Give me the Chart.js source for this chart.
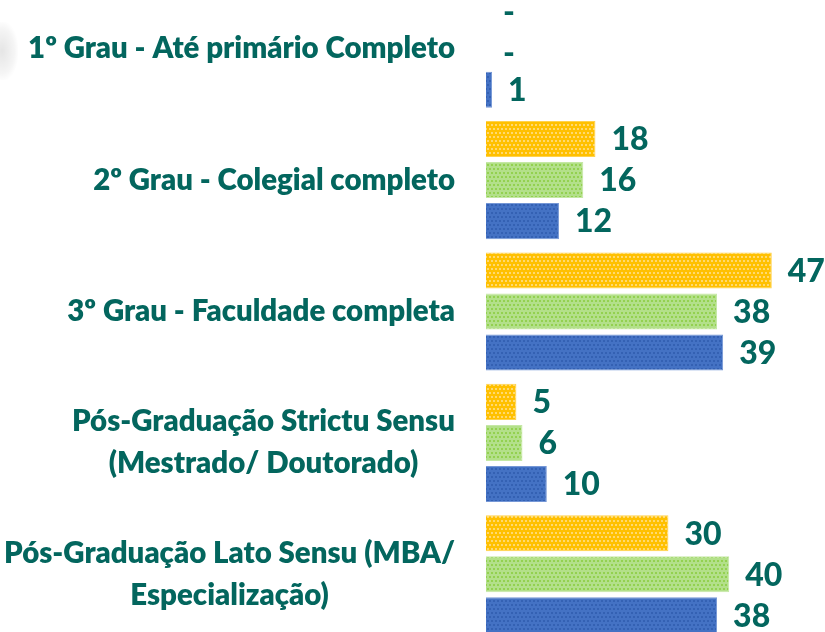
<!DOCTYPE html>
<html>
<head>
<meta charset="utf-8">
<script src="https://cdn.jsdelivr.net/npm/chart.js@4"></script>
<style>
  html, body { margin: 0; padding: 0; background: #ffffff; overflow: hidden; }
  body { width: 825px; height: 632px; position: relative; }
  #wrap { position: absolute; left: 0; top: -17px; width: 825px; height: 657px; }
  #blob { position: absolute; left: -14px; top: 22px; width: 32px; height: 58px;
          background: radial-gradient(ellipse at center, rgba(0,0,0,0.10) 0%, rgba(0,0,0,0.04) 55%, rgba(0,0,0,0) 75%); }
</style>
</head>
<body>
<div id="blob"></div>
<div id="wrap"><canvas id="c"></canvas></div>
<script>
const categories = [
  ["1º Grau - Até primário Completo"],
  ["2º Grau - Colegial completo"],
  ["3º Grau - Faculdade completa"],
  ["Pós-Graduação Strictu Sensu", "(Mestrado/ Doutorado)"],
  ["Pós-Graduação Lato Sensu (MBA/", "Especialização)"]
];
const seriesNames = ["Série 1", "Série 2", "Série 3"];
const seriesOrange = [null, 18, 47, 5, 30];
const seriesGreen  = [null, 16, 38, 6, 40];
const seriesBlue   = [1, 12, 39, 10, 38];

const TEAL = '#03665E';
const FONT = 'Lato, "Open Sans", "Noto Sans", sans-serif';

function makePattern(base, dot) {
  const t = document.createElement('canvas');
  t.width = 8; t.height = 8;
  const g = t.getContext('2d');
  g.fillStyle = base; g.fillRect(0, 0, 8, 8);
  g.fillStyle = dot;
  g.fillRect(1, 1, 2, 2); g.fillRect(5, 1, 2, 2);
  g.fillRect(3, 5, 2, 2); g.fillRect(7, 5, 1, 2); g.fillRect(0, 5, 1, 2);
  return document.getElementById('c').getContext('2d').createPattern(t, 'repeat');
}

const pOrange = makePattern('#FFC000', '#FFD970');
const pGreen  = makePattern('#B3E08A', '#93D150');
const pBlue   = makePattern('#4472C4', '#3461B3');

const valueLabels = {
  id: 'valueLabels',
  afterDatasetsDraw(chart) {
    const ctx = chart.ctx;
    const xs = chart.scales.x;
    ctx.save();
    ctx.font = '900 32px ' + FONT;
    ctx.fillStyle = TEAL;
    ctx.textAlign = 'left';
    ctx.textBaseline = 'middle';
    chart.data.datasets.forEach((ds, di) => {
      const meta = chart.getDatasetMeta(di);
      meta.data.forEach((el, i) => {
        const v = ds.data[i];
        const y = el.y;
        if (v === null || v === undefined) {
          ctx.fillText('-', xs.getPixelForValue(0) + 17, y + 5);
        } else {
          ctx.fillText(String(v), xs.getPixelForValue(v) + 16, y + 1);
        }
      });
    });
    ctx.restore();
  }
};

const catLabels = {
  id: 'catLabels',
  afterDraw(chart) {
    const ctx = chart.ctx;
    const ys = chart.scales.y;
    ctx.save();
    let size = 26;
    ctx.font = '800 ' + size + 'px ' + FONT;
    const w = ctx.measureText(categories[0][0]).width;
    size = size * 427 / w;
    ctx.font = '800 ' + size.toFixed(2) + 'px ' + FONT;
    ctx.fillStyle = TEAL;
    ctx.textAlign = 'center';
    ctx.textBaseline = 'middle';
    const right = 455;
    const lh = 42;
    categories.forEach((lines, i) => {
      const yc = ys.getPixelForValue(i);
      const maxW = Math.max(...lines.map(l => ctx.measureText(l).width));
      const cx = right - maxW / 2;
      lines.forEach((l, k) => {
        const y = yc + (k - (lines.length - 1) / 2) * lh;
        ctx.fillText(l, cx, y);
      });
    });
    ctx.restore();
  }
};

new Chart(document.getElementById('c'), {
  type: 'bar',
  data: {
    labels: categories,
    datasets: [
      { label: seriesNames[0], data: seriesOrange, backgroundColor: pOrange, borderColor: '#FFD24D', borderWidth: 1 },
      { label: seriesNames[1], data: seriesGreen,  backgroundColor: pGreen,  borderColor: '#C5E8A5', borderWidth: 1 },
      { label: seriesNames[2], data: seriesBlue,   backgroundColor: pBlue,   borderColor: '#7597D6', borderWidth: 1 }
    ]
  },
  options: {
    indexAxis: 'y',
    responsive: true,
    maintainAspectRatio: false,
    animation: false,
    layout: { padding: 0 },
    categoryPercentage: 0.937,
    barPercentage: 0.878,
    plugins: { legend: { display: false }, tooltip: { enabled: false } },
    scales: {
      x: { display: false, min: 0, max: 55.75 },
      y: {
        display: true,
        grid: { display: false },
        border: { display: false },
        ticks: { display: false },
        afterFit(s) { s.width = 486; }
      }
    }
  },
  plugins: [valueLabels, catLabels]
});
</script>
</body>
</html>
